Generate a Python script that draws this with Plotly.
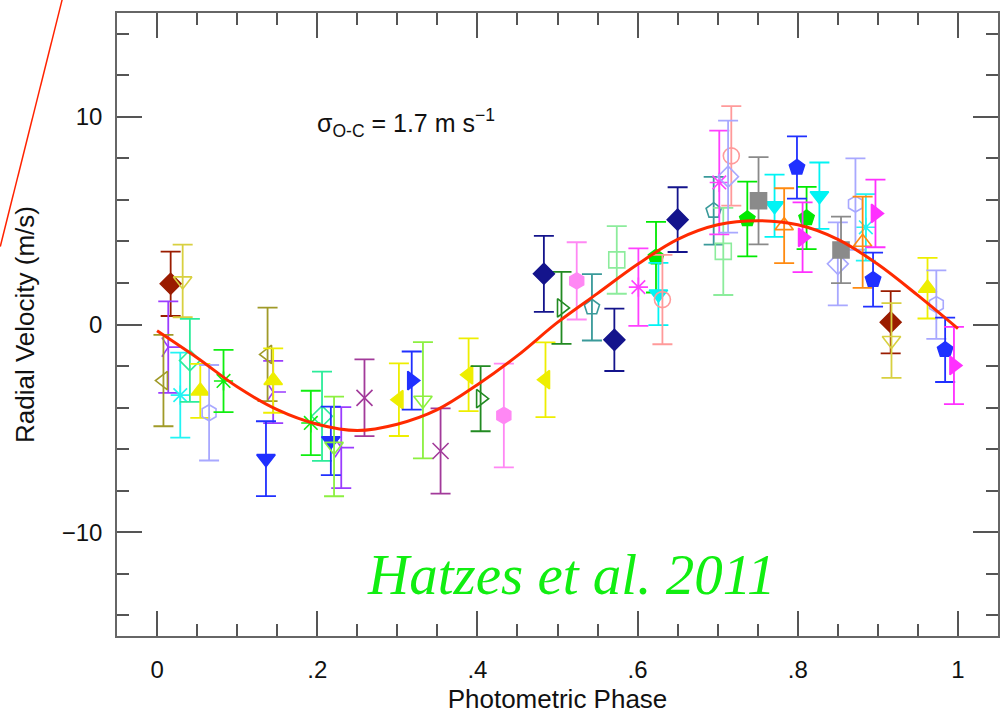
import plotly.graph_objects as go

# Radial velocity measurements folded on the photometric period
PHASE = [0.017, 0.916,
         0.032, 0.917,
         0.014, 0.145, 0.230,
         0.008, 0.138,
         0.029, 0.885,
         0.041, 0.206,
         0.054, 0.145, 0.962,
         0.065, 0.872, 0.973,
         0.083, 0.192,
         0.136, 0.217,
         0.221, 0.332,
         0.259, 0.354,
         0.302, 0.389, 0.485,
         0.318,
         0.404, 0.505,
         0.433, 0.524,
         0.483, 0.571, 0.650,
         0.543, 0.695,
         0.574, 0.707,
         0.601, 0.702,
         0.623, 0.737, 0.811,
         0.626, 0.771, 0.827,
         0.631, 0.717,
         0.713, 0.850,
         0.751, 0.854,
         0.783, 0.881,
         0.799, 0.894, 0.984,
         0.806, 0.897, 0.995]

RV = [1.96, 0.11,
      2.10, -0.77,
      -1.09, -3.25, -5.93,
      -2.70, -1.44,
      -3.40, 4.68,
      -1.73, -4.42,
      -3.20, -2.70, 1.75,
      -4.25, 5.80, 0.96,
      -2.72, -4.74,
      -6.46, -5.60,
      -5.87, -3.65,
      -3.53, -6.09,
      -3.62, -2.42, -2.66,
      -2.70,
      -3.57, 0.80,
      -4.38, 2.10,
      2.44, -0.74, 5.05,
      0.83, 5.48,
      3.11, 3.52,
      1.80, 6.84,
      3.24, 5.08, 5.13,
      1.47, 5.72, 6.20,
      1.20, 8.12,
      7.12, 2.92,
      5.96, 3.59,
      4.76, 3.96,
      7.56, 2.16, -1.22,
      4.20, 5.35, -1.97]

RV_ERR = [1.55, 1.50,
          1.75, 1.80,
          2.20, 1.50, 1.95,
          2.20, 2.25,
          2.05, 1.60,
          2.00, 2.15,
          1.30, 1.55, 1.46,
          2.30, 2.20, 1.65,
          1.50, 1.55,
          1.80, 1.65,
          2.40, 2.80,
          1.85, 2.05,
          1.75, 1.75, 1.80,
          1.40,
          1.57, 1.73,
          2.50, 1.86,
          1.83, 1.50, 1.56,
          1.60, 1.63,
          1.63, 2.10,
          1.87, 2.50,
          1.70, 1.80, 1.50,
          1.50, 1.50, 1.60,
          2.15, 2.40,
          2.70, 2.00,
          2.10, 1.60,
          1.80, 2.20,
          1.50, 1.30, 1.55,
          1.68, 1.63, 1.86]

# Observing night each point belongs to
NIGHT = ["A"] * 2 + ["B"] * 2 + ["C"] * 3 + ["D"] * 2 + ["E"] * 2 + ["F"] * 2 \
    + ["G"] * 3 + ["H"] * 3 + ["I"] * 2 + ["J"] * 2 + ["K"] * 2 + ["L"] * 2 \
    + ["M"] * 3 + ["N"] * 1 + ["O"] * 2 + ["P"] * 2 + ["Q"] * 3 + ["R"] * 2 \
    + ["S"] * 2 + ["T"] * 2 + ["U"] * 3 + ["V"] * 3 + ["W"] * 2 + ["X"] * 2 \
    + ["Y"] * 2 + ["Z"] * 2 + ["AA"] * 3 + ["AB"] * 3

# Orbital fit sampled along the phase
FIT_PHASE = [0.0, 0.05, 0.1, 0.15, 0.2, 0.25, 0.3, 0.35, 0.4, 0.45, 0.5,
             0.55, 0.6, 0.65, 0.7, 0.75, 0.8, 0.85, 0.9, 0.95, 1.0]
FIT_RV = [-0.3, -1.6, -3.0, -4.1, -4.8, -5.1, -4.8, -4.1, -2.9, -1.5, 0.1,
          1.5, 2.9, 4.1, 4.8, 5.0, 4.8, 4.1, 2.9, 1.4, -0.2]

X_TICKS = [0, 0.2, 0.4, 0.6, 0.8, 1.0]
X_TICK_TEXT = ["0", ".2", ".4", ".6", ".8", "1"]

# marker colour / symbol per night
STYLE = {
    "A": ("#9a1c00", "diamond"),
    "B": ("#d8d040", "triangle-down-open"),
    "C": ("#9b3cff", "y-right"),
    "D": ("#a09a28", "triangle-left-open"),
    "E": ("#22f4f4", "asterisk-open"),
    "F": ("#2cec9a", "diamond-open"),
    "G": ("#eeee00", "triangle-up"),
    "H": ("#a8a8ff", "hexagon-open"),
    "I": ("#10ee10", "asterisk-open"),
    "J": ("#2030ff", "triangle-down"),
    "K": ("#8cf040", "triangle-down-open"),
    "L": ("#a23a9a", "x-thin-open"),
    "M": ("#eeee00", "triangle-left"),
    "N": ("#2030ff", "triangle-right"),
    "O": ("#228a22", "triangle-right-open"),
    "P": ("#ff88f4", "hexagon"),
    "Q": ("#14148c", "diamond"),
    "R": ("#3a9a9a", "pentagon-open"),
    "S": ("#8cec9c", "square-open"),
    "T": ("#ff40ff", "asterisk-open"),
    "U": ("#00ea00", "pentagon"),
    "V": ("#00f4f4", "triangle-down"),
    "W": ("#ff9a9a", "circle-open"),
    "X": ("#a8a8ff", "diamond-open"),
    "Y": ("#8a8a8a", "square"),
    "Z": ("#ff8a10", "triangle-up-open"),
    "AA": ("#2030ff", "pentagon"),
    "AB": ("#ff30ff", "triangle-right"),
}

FONT = "Liberation Sans, Arial, Helvetica, sans-serif"

fig = go.Figure()

order = []
for n in NIGHT:
    if n not in order:
        order.append(n)

for key in order:
    idx = [i for i, n in enumerate(NIGHT) if n == key]
    color, symbol = STYLE[key]
    fig.add_trace(go.Scatter(
        x=[PHASE[i] for i in idx],
        y=[RV[i] for i in idx],
        mode="markers",
        marker=dict(symbol=symbol, size=16, color=color,
                    line=dict(color=color, width=1.6)),
        error_y=dict(type="data", array=[RV_ERR[i] for i in idx],
                     symmetric=True, color=color, thickness=1.8, width=10),
        showlegend=False,
        hoverinfo="skip",
    ))

fig.add_trace(go.Scatter(
    x=FIT_PHASE, y=FIT_RV, mode="lines",
    line=dict(color="#ff2a00", width=3, shape="spline", smoothing=1.0),
    showlegend=False, hoverinfo="skip",
))

axis_common = dict(
    showline=True, linecolor="#666666", linewidth=1.5, mirror="allticks",
    ticks="inside", tickcolor="#555555", tickwidth=1.5, ticklen=25,
    showgrid=False, zeroline=False,
    tickfont=dict(family=FONT, size=24, color="#111111"),
)

fig.update_xaxes(
    range=[-0.05, 1.05],
    tickvals=X_TICKS, ticktext=X_TICK_TEXT,
    minor=dict(dtick=0.05, ticks="inside", ticklen=12, tickcolor="#555555",
               tickwidth=1.5, showgrid=False),
    title=dict(text="Photometric Phase",
               font=dict(family=FONT, size=26, color="#111111"), standoff=8),
    ticklabelstandoff=11,
    **axis_common,
)
fig.update_yaxes(
    range=[-15, 15], dtick=10, tick0=0,
    minor=dict(dtick=2, ticks="inside", ticklen=12, tickcolor="#555555",
               tickwidth=1.5, showgrid=False),
    title=dict(text="Radial Velocity (m/s)",
               font=dict(family=FONT, size=26, color="#111111"), standoff=20),
    ticklabelstandoff=8,
    **axis_common,
)

fig.add_annotation(
    x=0.197, y=9.7, xref="x", yref="y", xanchor="left", yanchor="middle",
    text="σ<sub>O-C</sub> = 1.7 m s<sup>−1</sup>", showarrow=False,
    font=dict(family=FONT, size=25, color="#111111"),
)
fig.add_annotation(
    x=0.517, y=-12.05, xref="x", yref="y", xanchor="center", yanchor="middle",
    text="<i>Hatzes et al. 2011</i>", showarrow=False,
    font=dict(family="Liberation Serif, Times New Roman, serif", size=57,
              color="#11ee11"),
)

# red pointer line in the upper-left margin
fig.add_shape(type="line", xref="paper", yref="paper",
              x0=-0.0623, y0=1.021, x1=-0.1325, y1=0.625,
              line=dict(color="#ff2200", width=1.5))

fig.update_layout(
    width=1000, height=717,
    margin=dict(l=117, r=0, t=13, b=81),
    paper_bgcolor="white", plot_bgcolor="white",
    showlegend=False,
)

fig.write_html("out.html")
